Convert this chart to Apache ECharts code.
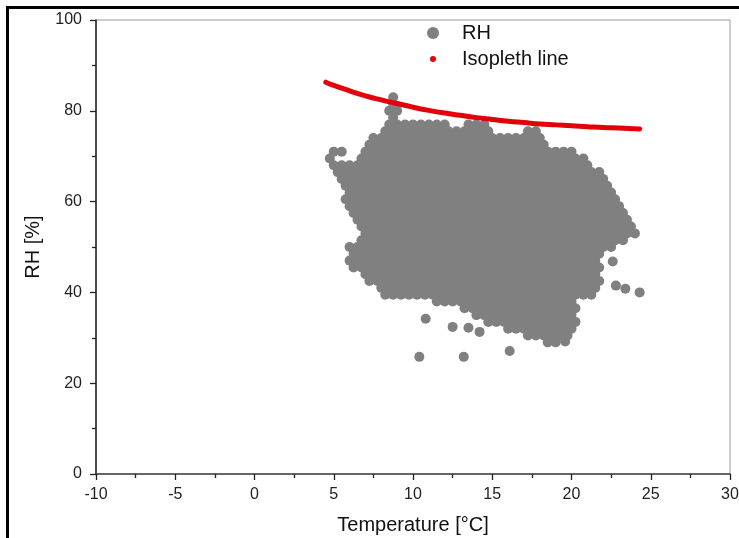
<!DOCTYPE html>
<html>
<head>
<meta charset="utf-8">
<script src="https://cdn.jsdelivr.net/npm/echarts@6/dist/echarts.min.js"></script>
<style>
html,body{margin:0;padding:0;background:#fff;}
#chart{width:739px;height:538px;position:absolute;left:0;top:0;}
#frame{position:absolute;left:6px;top:6px;width:740px;height:540px;border-left:3px solid #000;border-top:3px solid #000;pointer-events:none;}
</style>
</head>
<body>
<div id="chart"></div>
<div id="frame"></div>
<script>
// Axis ticks
const xTicks = [-10, -5, 0, 5, 10, 15, 20, 25, 30];
const yTicks = [0, 20, 40, 60, 80, 100];

const rhRows = [29, 30.5, 32, 33.5, 35, 36.5, 38, 39.5, 41, 42.5, 44, 45.5, 47, 48.5, 50, 51.5, 53, 54.5, 56, 57.5, 59, 60.5, 62, 63.5, 65, 66.5, 68, 69.5, 71, 72.5, 74, 75.5, 77, 78.5, 80, 81.5, 83];
const rowTemps = [
  [18.5,19],
  [17.25,17.75,18.25,18.75,19.25,19.75],
  [16,16.5,17,17.5,18,18.5,19,19.5,20],
  [14.75,15.25,15.75,16.25,16.75,17.25,17.75,18.25,18.75,19.25,19.75,20.25],
  [14,14.5,15,15.5,16,16.5,17,17.5,18,18.5,19,19.5,20],
  [13.25,13.75,14.25,14.75,15.25,15.75,16.25,16.75,17.25,17.75,18.25,18.75,19.25,19.75,20.25],
  [11.5,12,12.5,13,13.5,14,14.5,15,15.5,16,16.5,17,17.5,18,18.5,19,19.5,20],
  [8.25,8.75,9.25,9.75,10.25,10.75,11.25,11.75,12.25,12.75,13.25,13.75,14.25,14.75,15.25,15.75,16.25,16.75,17.25,17.75,18.25,18.75,19.25,19.75,20.25,20.75,21.25],
  [8,8.5,9,9.5,10,10.5,11,11.5,12,12.5,13,13.5,14,14.5,15,15.5,16,16.5,17,17.5,18,18.5,19,19.5,20,20.5,21,21.5],
  [7.25,7.75,8.25,8.75,9.25,9.75,10.25,10.75,11.25,11.75,12.25,12.75,13.25,13.75,14.25,14.75,15.25,15.75,16.25,16.75,17.25,17.75,18.25,18.75,19.25,19.75,20.25,20.75,21.25,21.75],
  [7,7.5,8,8.5,9,9.5,10,10.5,11,11.5,12,12.5,13,13.5,14,14.5,15,15.5,16,16.5,17,17.5,18,18.5,19,19.5,20,20.5,21,21.5],
  [6.25,6.75,7.25,7.75,8.25,8.75,9.25,9.75,10.25,10.75,11.25,11.75,12.25,12.75,13.25,13.75,14.25,14.75,15.25,15.75,16.25,16.75,17.25,17.75,18.25,18.75,19.25,19.75,20.25,20.75,21.25,21.75],
  [6,6.5,7,7.5,8,8.5,9,9.5,10,10.5,11,11.5,12,12.5,13,13.5,14,14.5,15,15.5,16,16.5,17,17.5,18,18.5,19,19.5,20,20.5,21,21.5],
  [6.25,6.75,7.25,7.75,8.25,8.75,9.25,9.75,10.25,10.75,11.25,11.75,12.25,12.75,13.25,13.75,14.25,14.75,15.25,15.75,16.25,16.75,17.25,17.75,18.25,18.75,19.25,19.75,20.25,20.75,21.25,21.75],
  [6,6.5,7,7.5,8,8.5,9,9.5,10,10.5,11,11.5,12,12.5,13,13.5,14,14.5,15,15.5,16,16.5,17,17.5,18,18.5,19,19.5,20,20.5,21,21.5,22,22.5],
  [6.75,7.25,7.75,8.25,8.75,9.25,9.75,10.25,10.75,11.25,11.75,12.25,12.75,13.25,13.75,14.25,14.75,15.25,15.75,16.25,16.75,17.25,17.75,18.25,18.75,19.25,19.75,20.25,20.75,21.25,21.75,22.25,22.75,23.25],
  [7,7.5,8,8.5,9,9.5,10,10.5,11,11.5,12,12.5,13,13.5,14,14.5,15,15.5,16,16.5,17,17.5,18,18.5,19,19.5,20,20.5,21,21.5,22,22.5,23,23.5,24],
  [6.75,7.25,7.75,8.25,8.75,9.25,9.75,10.25,10.75,11.25,11.75,12.25,12.75,13.25,13.75,14.25,14.75,15.25,15.75,16.25,16.75,17.25,17.75,18.25,18.75,19.25,19.75,20.25,20.75,21.25,21.75,22.25,22.75,23.25,23.75],
  [6.5,7,7.5,8,8.5,9,9.5,10,10.5,11,11.5,12,12.5,13,13.5,14,14.5,15,15.5,16,16.5,17,17.5,18,18.5,19,19.5,20,20.5,21,21.5,22,22.5,23,23.5],
  [6.25,6.75,7.25,7.75,8.25,8.75,9.25,9.75,10.25,10.75,11.25,11.75,12.25,12.75,13.25,13.75,14.25,14.75,15.25,15.75,16.25,16.75,17.25,17.75,18.25,18.75,19.25,19.75,20.25,20.75,21.25,21.75,22.25,22.75,23.25],
  [6,6.5,7,7.5,8,8.5,9,9.5,10,10.5,11,11.5,12,12.5,13,13.5,14,14.5,15,15.5,16,16.5,17,17.5,18,18.5,19,19.5,20,20.5,21,21.5,22,22.5,23],
  [5.75,6.25,6.75,7.25,7.75,8.25,8.75,9.25,9.75,10.25,10.75,11.25,11.75,12.25,12.75,13.25,13.75,14.25,14.75,15.25,15.75,16.25,16.75,17.25,17.75,18.25,18.75,19.25,19.75,20.25,20.75,21.25,21.75,22.25,22.75],
  [6,6.5,7,7.5,8,8.5,9,9.5,10,10.5,11,11.5,12,12.5,13,13.5,14,14.5,15,15.5,16,16.5,17,17.5,18,18.5,19,19.5,20,20.5,21,21.5,22,22.5],
  [5.75,6.25,6.75,7.25,7.75,8.25,8.75,9.25,9.75,10.25,10.75,11.25,11.75,12.25,12.75,13.25,13.75,14.25,14.75,15.25,15.75,16.25,16.75,17.25,17.75,18.25,18.75,19.25,19.75,20.25,20.75,21.25,21.75,22.25],
  [5.5,6,6.5,7,7.5,8,8.5,9,9.5,10,10.5,11,11.5,12,12.5,13,13.5,14,14.5,15,15.5,16,16.5,17,17.5,18,18.5,19,19.5,20,20.5,21,21.5,22],
  [5.25,5.75,6.25,6.75,7.25,7.75,8.25,8.75,9.25,9.75,10.25,10.75,11.25,11.75,12.25,12.75,13.25,13.75,14.25,14.75,15.25,15.75,16.25,16.75,17.25,17.75,18.25,18.75,19.25,19.75,20.25,20.75,21.25,21.75],
  [5,5.5,6,6.5,7,7.5,8,8.5,9,9.5,10,10.5,11,11.5,12,12.5,13,13.5,14,14.5,15,15.5,16,16.5,17,17.5,18,18.5,19,19.5,20,20.5,21],
  [4.75,6.75,7.25,7.75,8.25,8.75,9.25,9.75,10.25,10.75,11.25,11.75,12.25,12.75,13.25,13.75,14.25,14.75,15.25,15.75,16.25,16.75,17.25,17.75,18.25,18.75,19.25,19.75,20.25,20.75],
  [5,5.5,7,7.5,8,8.5,9,9.5,10,10.5,11,11.5,12,12.5,13,13.5,14,14.5,15,15.5,16,16.5,17,17.5,18,18.5,19,19.5,20],
  [7.25,7.75,8.25,8.75,9.25,9.75,10.25,10.75,11.25,11.75,12.25,12.75,13.25,13.75,14.25,14.75,15.25,15.75,16.25,16.75,17.25,17.75,18.25],
  [7.5,8,8.5,9,9.5,10,10.5,11,11.5,12,12.5,13,13.5,14,14.5,15,15.5,16,16.5,17,17.5,18],
  [8.25,8.75,9.25,9.75,10.25,10.75,11.25,11.75,12.25,12.75,13.25,13.75,14.25,14.75,17.25,17.75],
  [8.5,9,9.5,10,10.5,11,11.5,12,13.5,14,14.5],
  [8.75],
  [8.5,9],
  [8.75],
  [8.75]
];
// Isolated RH points outside the main cloud: [temperature, RH]
const rhOutliers = [[10.8,34.2],[10.4,25.8],[13.2,25.8],[16.1,27.1],[12.5,32.4],[13.5,32.2],[14.2,31.3],[19.6,29.2],[22.6,46.8],[22.8,41.5],[23.4,40.8],[24.3,40.0]];

// Isopleth line
const isoTemps = [4.5, 5, 6, 7, 8, 9, 10, 11, 12, 13, 14, 15, 16, 17, 18, 19, 20, 21, 22, 23, 24, 24.3];
const isoRH    = [86.3, 85.6, 84.4, 83.3, 82.4, 81.6, 80.8, 80.1, 79.5, 79.0, 78.5, 78.1, 77.7, 77.4, 77.1, 76.9, 76.7, 76.5, 76.3, 76.2, 76.05, 76.0];

const rhData = [];
rhRows.forEach((rh, i) => rowTemps[i].forEach(t => rhData.push([t, rh])));
rhOutliers.forEach(p => rhData.push(p));
const isoData = isoTemps.map((t, i) => [t, isoRH[i]]);

const FONT = 'Liberation Sans, Arial, sans-serif';
const chart = echarts.init(document.getElementById('chart'), null, {renderer: 'canvas'});
chart.setOption({
  animation: false,
  backgroundColor: '#fff',
  textStyle: {fontFamily: FONT},
  grid: {left: 96, right: 9, top: 20, bottom: 64, show: true, borderColor: '#9a9a9a', borderWidth: 1, backgroundColor: 'transparent',
         outerBoundsMode: 'none', containLabel: false},
  legend: [
    {data: [{name: 'RH', icon: 'circle'}], left: 422, top: 18, itemWidth: 12, itemHeight: 12, orient: 'vertical',
     textStyle: {fontFamily: FONT, fontSize: 20, color: '#111', padding: [0, 0, 0, 18]}, selectedMode: false},
    {data: [{name: 'Isopleth line', icon: 'circle'}], left: 425, top: 44, itemWidth: 6, itemHeight: 6, orient: 'vertical',
     textStyle: {fontFamily: FONT, fontSize: 20, color: '#111', padding: [0, 0, 0, 21]}, selectedMode: false}
  ],
  xAxis: {
    type: 'value', min: xTicks[0], max: xTicks[xTicks.length - 1], interval: 5,
    name: 'Temperature [°C]', nameLocation: 'middle', nameGap: 41,
    nameTextStyle: {fontFamily: FONT, fontSize: 20, color: '#111'},
    axisLine: {onZero: false, lineStyle: {color: '#444', width: 1.5}},
    axisTick: {show: true, inside: false, length: 6, lineStyle: {color: '#222', width: 1.3}},
    minorTick: {show: true, splitNumber: 2, length: 4, lineStyle: {color: '#222', width: 1.3}},
    splitLine: {show: false},
    axisLabel: {fontFamily: FONT, fontSize: 16, color: '#222', margin: 13}
  },
  yAxis: {
    type: 'value', min: yTicks[0], max: yTicks[yTicks.length - 1], interval: 20,
    name: 'RH [%]', nameLocation: 'middle', nameGap: 53,
    nameTextStyle: {fontFamily: FONT, fontSize: 20, color: '#111'},
    axisLine: {onZero: false, lineStyle: {color: '#222', width: 1.5}},
    axisTick: {show: true, inside: false, length: 6, lineStyle: {color: '#222', width: 1.3}},
    minorTick: {show: true, splitNumber: 2, length: 4, lineStyle: {color: '#222', width: 1.3}},
    splitLine: {show: false},
    axisLabel: {fontFamily: FONT, fontSize: 16, color: '#222', margin: 14}
  },
  series: [
    {name: 'RH', type: 'scatter', data: rhData, symbol: 'circle', symbolSize: 10,
     itemStyle: {color: '#808080', opacity: 1}, silent: true, large: false, z: 2},
    {name: 'Isopleth line', type: 'line', data: isoData, smooth: true, showSymbol: false, symbol: 'circle',
     lineStyle: {color: '#e3000b', width: 5, cap: 'round'}, itemStyle: {color: '#e3000b'}, silent: true, z: 3}
  ]
});
</script>
</body>
</html>
